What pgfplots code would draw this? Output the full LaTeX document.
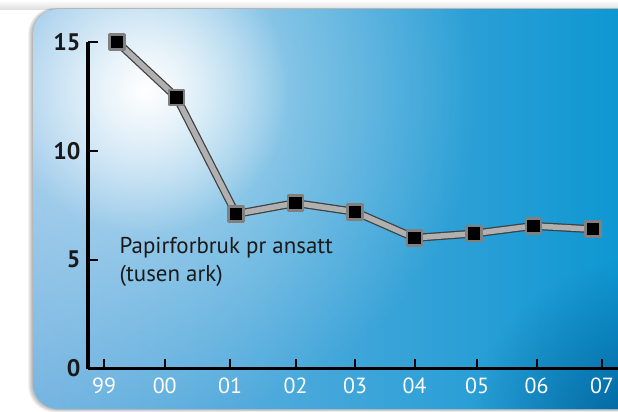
\documentclass[border=0pt]{standalone}
\usepackage{fontspec}
\setmainfont{PT Sans}
\usepackage{pgfplots}
\pgfplotsset{compat=1.18}
\usetikzlibrary{fadings}
\definecolor{bgA}{HTML}{78B6E2}
\definecolor{bgM}{HTML}{3AA6DC}
\definecolor{bgB}{HTML}{0494D0}
\definecolor{bgD}{HTML}{00558F}
\definecolor{lineG}{HTML}{B0B0B0}
\tikzfading[name=glowfade, inner color=transparent!0, outer color=transparent!100]
\begin{document}
\begin{tikzpicture}[x=1bp,y=1bp]
\useasboundingbox (0,0) rectangle (618,-411);
\begin{scope}
\clip (0,0) rectangle (618,-411);
\fill[white] (0,0) rectangle (618,-411);
\shade[top color=white, bottom color=black!12] (0,0) rectangle (618,-9);
\foreach \i in {1,...,6}{
  \fill[black, opacity=0.05, rounded corners=26] (33-\i*0.8, -9+\i*0.2) rectangle (700, -409-\i*0.5);
}
\shade[left color=bgA, middle color=bgM, right color=bgB, rounded corners=25] (33,-9) rectangle (680,-409);
\begin{scope}
\clip[rounded corners=25] (33,-9) rectangle (680,-409);
\fill[white, opacity=0.55, path fading=glowfade] (150,-90) circle (330);
\fill[white, path fading=glowfade] (145,-90) circle (145);
\fill[bgD, opacity=0.8, path fading=glowfade] (640,-430) circle (170);
\end{scope}
\end{scope}
\begin{axis}[
  at={(88bp,-368.5bp)}, anchor=south west,
  scale only axis, width=530bp, height=326.5bp,
  xmin=-0.49, xmax=8.42, ymin=0, ymax=15,
  axis lines=left,
  axis line style={-, line width=3.5bp, black},
  clip=false,
  xtick={-0.22,0.8,1.9,3,4,5,6.05,7.05,8.15},
  xticklabels={99,00,01,02,03,04,05,06,07},
  ytick={0,5,10,15},
  yticklabels={0,5,10,15},
  tick align=inside,
  major tick length=10bp,
  x tick style={line width=2bp, black},
  y tick style={line width=2bp, black},
  xticklabel style={text=white, font=\fontsize{22}{22}\selectfont, yshift=-6bp},
  yticklabel style={text=black!90, font=\fontsize{24}{24}\selectfont\bfseries, xshift=-4bp},
]
\addplot[line width=8bp, color=black!75, line join=round] coordinates {
(0,15.0) (1,12.45) (2,7.1) (3,7.6) (4,7.2) (5,6.0) (6,6.2) (7,6.55) (8,6.4)};
\addplot[line width=5.5bp, color=lineG, line join=round, mark=square*, mark size=7.5bp,
  mark options={fill=black, draw=black!50, line width=2.5bp}] coordinates {
(0,15.0) (1,12.45) (2,7.1) (3,7.6) (4,7.2) (5,6.0) (6,6.2) (7,6.55) (8,6.4)};
\node[anchor=north west, align=left, inner sep=0pt, text=black!90,
  font=\fontsize{23}{28}\selectfont] at (axis cs:0.04,6.05) {Papirforbruk pr ansatt\\(tusen ark)};
\end{axis}
\end{tikzpicture}
\end{document}
